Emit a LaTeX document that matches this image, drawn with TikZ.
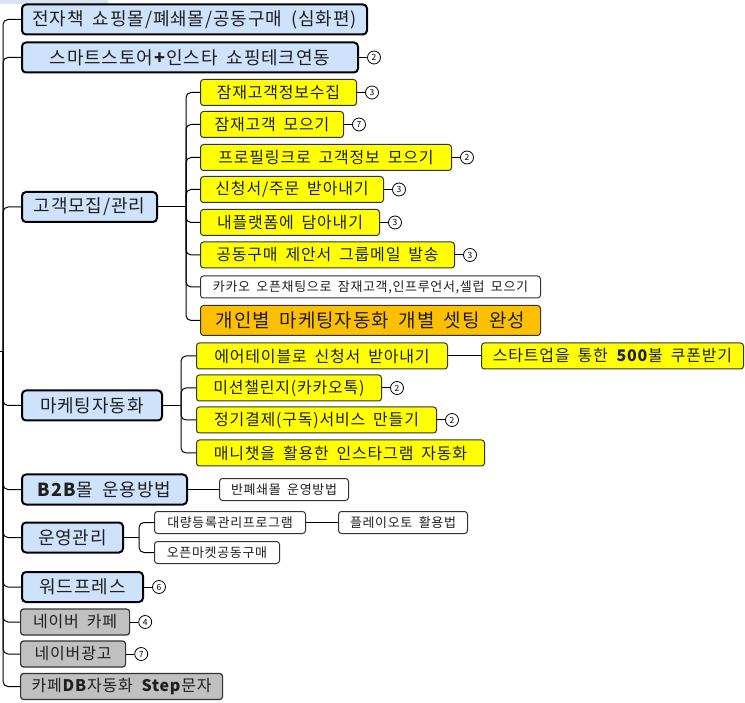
\documentclass[tikz,border=0pt]{standalone}
\usepackage{fontspec}
\setmainfont{Noto Sans CJK KR}[LetterSpace=5, WordSpace=1.8]
\definecolor{bluefill}{RGB}{206,226,252}
\definecolor{yel}{RGB}{255,255,0}
\definecolor{orfill}{RGB}{252,192,0}
\definecolor{grayfill}{RGB}{192,192,192}
\definecolor{bordergray}{RGB}{50,50,50}
\definecolor{topband}{RGB}{214,228,246}
\tikzset{
  box/.style={draw, anchor=west, inner sep=0pt, align=center, text=black!88},
  topbox/.style={box, fill=bluefill, draw=black, line width=2pt, rounded corners=4pt, minimum height=30pt, font=\fontsize{18}{20}\selectfont},
  yelbox/.style={box, fill=yel, draw=bordergray, line width=1pt, rounded corners=3pt, minimum height=26pt, font=\fontsize{16}{18}\selectfont},
  orbox/.style={box, fill=orfill, draw=bordergray, line width=1pt, rounded corners=3pt, minimum height=30pt, font=\fontsize{19}{21}\selectfont},
  whitebox/.style={box, fill=white, draw=bordergray, line width=1pt, rounded corners=3pt, minimum height=22pt, font=\fontsize{13}{15}\selectfont},
  graybox/.style={box, fill=grayfill, draw=bordergray, line width=1.2pt, rounded corners=3pt, minimum height=26pt, font=\fontsize{16}{18}\selectfont},
  badge/.style={circle, draw=black, fill=white, line width=0.8pt, minimum size=13pt, inner sep=0pt, font=\fontsize{8.5}{9}\selectfont},
  conn/.style={draw=black, line width=1pt, rounded corners=5pt},
}
\begin{document}
\begin{tikzpicture}[x=1pt,y=-1pt]
\useasboundingbox (0,0) rectangle (745,703);
\fill[topband, rounded corners=2pt] (-5,-5) rectangle (108,4);

% top-level nodes
\node[topbox, minimum width=345pt] (n1) at (21,19.5) {전자책 쇼핑몰/폐쇄몰/공동구매 (심화편)};
\node[topbox, minimum width=336pt] (n2) at (21,57.5) {스마트스토어\textbf{+}인스타 쇼핑테크연동};
\node[topbox, minimum width=135pt] (n3) at (21,207) {고객모집/관리};
\node[topbox, minimum width=140pt] (n4) at (21,405.5) {마케팅자동화};
\node[topbox, minimum width=165pt] (n5) at (21,489.5) {\textbf{B2B}몰 운용방법};
\node[topbox, minimum width=101pt] (n6) at (21,537.5) {운영관리};
\node[topbox, minimum width=121pt] (n7) at (21,587) {워드프레스};
\node[graybox, minimum width=109pt] (n8) at (20,622) {네이버 카페};
\node[graybox, minimum width=105pt] (n9) at (20,654) {네이버광고};
\node[graybox, minimum width=202pt] (n10) at (20,686.5) {카페\textbf{DB}자동화 \textbf{Step}문자};

% children of 고객모집/관리
\node[yelbox, minimum width=156pt] (c1) at (200,92.5) {잠재고객정보수집};
\node[yelbox, minimum width=143pt] (c2) at (200,124.5) {잠재고객 모으기};
\node[yelbox, minimum width=251pt] (c3) at (200,157.5) {프로필링크로 고객정보 모으기};
\node[yelbox, minimum width=183pt] (c4) at (200,189.5) {신청서/주문 받아내기};
\node[yelbox, minimum width=179pt] (c5) at (200,222.5) {내플랫폼에 담아내기};
\node[yelbox, minimum width=254pt] (c6) at (200,255) {공동구매 제안서 그룹메일 발송};
\node[whitebox, minimum width=340pt] (c7) at (200,287) {카카오 오픈채팅으로 잠재고객,인프루언서,셀럽 모으기};
\node[orbox, minimum width=340pt] (c8) at (200,320.5) {개인별 마케팅자동화 개별 셋팅 완성};

% children of 마케팅자동화
\node[yelbox, minimum width=251pt] (m1) at (196,356) {에어테이블로 신청서 받아내기};
\node[yelbox, minimum width=262pt] (m1b) at (481,356) {스타트업을 통한 \textbf{500}불 쿠폰받기};
\node[yelbox, minimum width=185pt] (m2) at (196,388) {미션챌린지(카카오톡)};
\node[yelbox, minimum width=240pt] (m3) at (196,420) {정기결제(구독)서비스 만들기};
\node[yelbox, minimum width=288pt] (m4) at (196,453) {매니챗을 활용한 인스타그램 자동화};

% B2B child
\node[whitebox, minimum width=129pt] (w1) at (219,489.5) {반폐쇄몰 운영방법};

% 운영관리 children
\node[whitebox, minimum width=151pt] (o1) at (154,522.5) {대량등록관리프로그램};
\node[whitebox, minimum width=129pt] (o1b) at (338,522.5) {플레이오토 활용법};
\node[whitebox, minimum width=125pt] (o2) at (154,552.5) {오픈마켓공동구매};

% badges
\foreach \n/\v in {n2/2,c1/3,c2/7,c3/2,c4/3,c5/3,c6/3,m2/2,m3/2,n7/6,n8/4,n9/7}{
  \node[badge] (b\n) at ([xshift=15pt]\n.east) {\v};
  \draw[conn] (\n.east) -- (b\n.west);
}

% trunk
\coordinate (R) at (0,352);
\coordinate (J0) at (3,352);
\draw[conn] (R) -- (J0);
\foreach \n in {n1,n2,n3,n4,n5,n6,n7,n8,n9,n10}{
  \draw[conn] (J0) |- (\n.west);
}

% 고객모집/관리 branch
\path (n3.east) -- ++(28,0) coordinate (J1);
\draw[conn] (n3.east) -- (J1);
\foreach \n in {c1,c2,c3,c4,c5,c6,c7,c8}{
  \draw[conn] (J1) |- (\n.west);
}

% 마케팅자동화 branch
\path (n4.east) -- ++(18,0) coordinate (J2);
\draw[conn] (n4.east) -- (J2);
\foreach \n in {m1,m2,m3,m4}{
  \draw[conn] (J2) |- (\n.west);
}
\draw[conn] (m1.east) -- (m1b.west);

% B2B
\draw[conn] (n5.east) -- (w1.west);

% 운영관리 branch
\path (n6.east) -- ++(15,0) coordinate (J3);
\draw[conn] (n6.east) -- (J3);
\foreach \n in {o1,o2}{
  \draw[conn] (J3) |- (\n.west);
}
\draw[conn] (o1.east) -- (o1b.west);
\end{tikzpicture}
\end{document}
